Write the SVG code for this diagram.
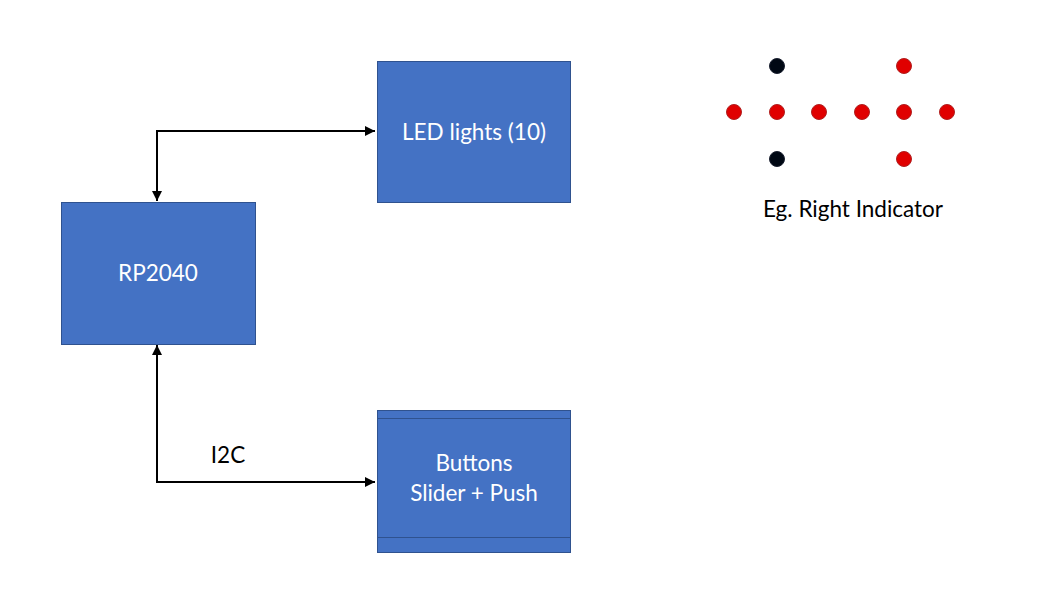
<svg xmlns="http://www.w3.org/2000/svg" width="1047" height="599" viewBox="0 0 1047 599">
<style>
.box{fill:#4472C4;stroke:#2F528F;stroke-width:1}
.lbl{font-family:Lato,"Open Sans",sans-serif;font-size:22.5px;fill:#fff;text-anchor:middle}
.blk{font-family:Lato,"Open Sans",sans-serif;font-size:22.5px;fill:#000;text-anchor:middle}
.conn{fill:none;stroke:#000;stroke-width:2}
.red{fill:#E00000;stroke:#B02020;stroke-width:1}
.dark{fill:#000814;stroke:#1a2030;stroke-width:1}
</style>
<defs>
<marker id="ah" viewBox="0 0 10 10" refX="10" refY="5" markerWidth="5" markerHeight="5" orient="auto-start-reverse" markerUnits="strokeWidth">
<path d="M0,0 L10,5 L0,10 z" fill="#000"/>
</marker>
</defs>
<rect width="1047" height="599" fill="#fff"/>
<g id="connectors">
<polyline class="conn" points="157,201 157,131 375,131" marker-start="url(#ah)" marker-end="url(#ah)"/>
<polyline class="conn" points="157,345 157,482 375,482" marker-start="url(#ah)" marker-end="url(#ah)"/>
</g>
<g id="rp2040">
<rect class="box" x="61.5" y="202.5" width="194" height="142"/>
<text class="lbl" x="158" y="281">RP2040</text>
</g>
<g id="led">
<rect class="box" x="377.5" y="61.5" width="193" height="141"/>
<text class="lbl" x="474" y="140">LED lights (10)</text>
</g>
<g id="buttons">
<rect class="box" x="377.5" y="410.5" width="193" height="142"/>
<line x1="377.5" y1="418.5" x2="570.5" y2="418.5" stroke="#2F528F"/>
<line x1="377.5" y1="537.5" x2="570.5" y2="537.5" stroke="#2F528F"/>
<text class="lbl" x="474" y="471">Buttons</text>
<text class="lbl" x="474" y="501">Slider + Push</text>
</g>
<g id="i2c">
<text class="blk" x="228" y="463">I2C</text>
</g>
<g id="indicator">
<circle class="dark" cx="777" cy="66" r="7.5"/>
<circle class="red" cx="904" cy="66" r="7.5"/>
<circle class="red" cx="734" cy="112" r="7.5"/>
<circle class="red" cx="777" cy="112" r="7.5"/>
<circle class="red" cx="819" cy="112" r="7.5"/>
<circle class="red" cx="862" cy="112" r="7.5"/>
<circle class="red" cx="904" cy="112" r="7.5"/>
<circle class="red" cx="947" cy="112" r="7.5"/>
<circle class="dark" cx="777" cy="159" r="7.5"/>
<circle class="red" cx="904" cy="159" r="7.5"/>
<text class="blk" x="853" y="217">Eg. Right Indicator</text>
</g>
</svg>
